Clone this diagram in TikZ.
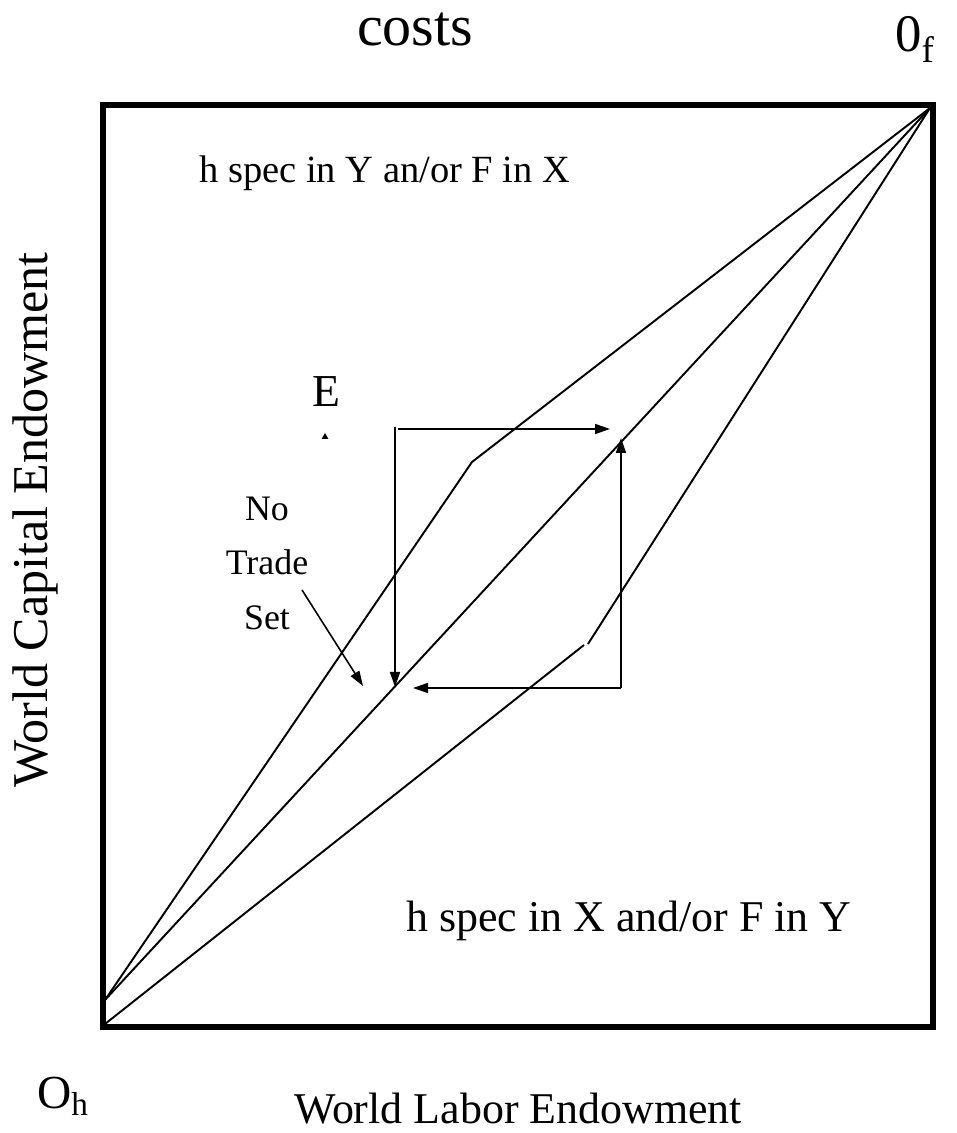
\documentclass[tikz,border=0pt]{standalone}
\usepackage{fontspec}
\setmainfont{Liberation Serif}
\usetikzlibrary{arrows.meta,shapes.geometric}

\begin{document}
\begin{tikzpicture}[
  ray/.style={line width=1.1pt},
  arr/.style={line width=0.9pt,-{Triangle[length=3mm,width=2mm]}},
  lbl/.style={font=\fontsize{25}{30}\selectfont},
  small/.style={font=\fontsize{20.4}{31}\selectfont}]
\useasboundingbox (0,0) rectangle (19.14,22.66);

\draw[line width=3.4pt] (2.06,2.12) rectangle (18.66,20.56);

% corners the rays run between
\coordinate (Of) at (18.60,20.50);
\coordinate (Oh) at (2.10,2.66);
\coordinate (Oc) at (2.10,2.18);
\coordinate (k1) at (9.44,13.42);
\coordinate (k2) at (11.76,9.78);
\coordinate (k3) at (11.68,9.76);

\draw[ray] (Of) -- (Oh);
\draw[ray] (Of) -- (k1) -- (Oh);
\draw[ray] (Of) -- (k2);
\draw[ray] (k3) -- (Oc);

% the arrow square
\coordinate (a1) at (7.90,14.12);
\coordinate (a2) at (7.90,8.92);
\coordinate (b1) at (7.96,14.08);
\coordinate (b2) at (12.20,14.08);
\coordinate (c1) at (12.42,8.90);
\coordinate (c2) at (12.42,13.90);
\coordinate (d2) at (8.26,8.90);

\draw[arr] (a1) -- (a2);
\draw[arr] (b1) -- (b2);
\draw[arr] (c1) -- (c2);
\draw[arr] (c1) -- (d2);

\node[font=\fontsize{33}{38}\selectfont,anchor=base] (cost) at (8.30,21.74) {costs};
\node[font=\fontsize{30}{35}\selectfont,anchor=base] (of) at (18.30,21.62) {0\textsubscript{f}};
\node[font=\fontsize{21.9}{26}\selectfont,anchor=base west] (up) at (3.86,19.00) {h spec in Y an/or F in X};
\node[lbl,anchor=base west] (lo) at (8.00,4.02) {h spec in X and/or F in Y};
\node[font=\fontsize{26}{31}\selectfont,anchor=base] (e) at (6.52,14.52) {E};
\node[regular polygon,regular polygon sides=3,fill,inner sep=0pt,minimum size=0.16cm] (pt) at (6.50,13.92) {};
\node[small,align=center] (nts) at (5.34,11.40) {No\\Trade\\Set};
\coordinate (nt) at (6.04,10.86);
\coordinate (nh) at (7.26,8.94);
\draw[arr] (nt) -- (nh);

\node[font=\fontsize{28.5}{33}\selectfont,rotate=90] (cap) at (0.70,12.26) {World Capital Endowment};
\node[lbl,anchor=base] (lab) at (10.36,0.20) {World Labor Endowment};
\node[font=\fontsize{27}{32}\selectfont,anchor=base west] (oh) at (0.62,0.50) {O\textsubscript{h}};

\end{tikzpicture}
\end{document}
